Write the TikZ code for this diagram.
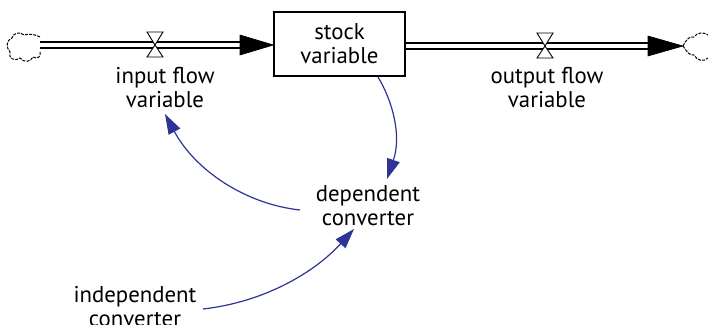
\documentclass[tikz,border=0pt]{standalone}
\usepackage{fontspec}
\setmainfont{PT Sans}
\usetikzlibrary{arrows.meta}
\definecolor{linkblue}{RGB}{45,52,150}
\begin{document}
\begin{tikzpicture}[x=1pt,y=-1pt,
  lbl/.style={align=center,font=\fontsize{22.8}{24}\selectfont,inner sep=0pt},
  pipe/.style={draw=black,line width=1.3pt,double=white,double distance=4.6pt},
  flowhead/.style={fill=black,draw=black,line width=0.6pt},
  valveshape/.style={draw=black,fill=white,line width=0.9pt},
  cloudline/.style={draw=black,line width=1pt,dash pattern=on 3pt off 1.2pt},
  link/.style={draw=linkblue,line width=1.2pt,-{Triangle[length=20pt,width=13pt]}}]
\useasboundingbox (0,0) rectangle (708,324);
% stock
\node[draw,line width=1.1pt,minimum width=131pt,minimum height=64pt,lbl] (stock) at (339.5,44) {stock\\variable};
% clouds
\coordinate (cloudL) at (40,45);
\coordinate (cloudR) at (683,46);
\draw[cloudline] (cloudL) ++(0,-8) .. controls (36,35) and (30,33) .. (24,35)
  .. controls (20,31) and (13,33) .. (12,38)
  .. controls (6,40) and (6,48) .. (10,52)
  .. controls (8,58) and (14,62) .. (20,58)
  .. controls (24,63) and (31,62) .. (33,57)
  .. controls (38,60) and (41,56) .. (40,52);
\draw[cloudline] (cloudR) .. controls (686,40) and (689,36) .. (694,37)
  .. controls (697,32) and (704,32) .. (708,35);
\draw[cloudline] (cloudR) .. controls (687,52) and (690,56) .. (694,55)
  .. controls (697,61) and (704,62) .. (708,58);
% pipes
\coordinate (inHead) at (240,45);
\coordinate (outHead) at (648,46);
\draw[pipe] (cloudL) -- (inHead);
\draw[flowhead] (240,35) -- (stock.west |- inHead) -- (240,55) -- cycle;
\draw[pipe] (stock.east |- outHead) -- (outHead);
\draw[flowhead] (648,36) -- (cloudR) -- (648,56) -- cycle;
% valves
\coordinate (valveIn) at (155,45);
\coordinate (valveOut) at (545,46);
\draw[valveshape] (147,32) -- (163,32) -- (valveIn) -- cycle;
\draw[valveshape] (147,57) -- (163,57) -- (valveIn) -- cycle;
\draw[valveshape] (537,33) -- (553,33) -- (valveOut) -- cycle;
\draw[valveshape] (537,58) -- (553,58) -- (valveOut) -- cycle;
% labels
\node[lbl] (inflow) at (165,88) {input flow\\variable};
\node[lbl] (outflow) at (547,88) {output flow\\variable};
\node[lbl] (dep) at (368,206) {dependent\\converter};
\node[lbl] (indep) at (135,307) {independent\\converter};
% links
\coordinate (s1) at (378,77);
\coordinate (t1) at (387,179);
\draw[link] (s1) .. controls (392,100) and (402,135) .. (t1);
\coordinate (s2) at (300,210);
\coordinate (t2) at (165,114);
\draw[link] (s2) .. controls (245,204) and (195,170) .. (t2);
\coordinate (s3) at (203,309);
\coordinate (t3) at (354,229);
\draw[link] (s3) .. controls (265,302) and (315,272) .. (t3);
\end{tikzpicture}
\end{document}
